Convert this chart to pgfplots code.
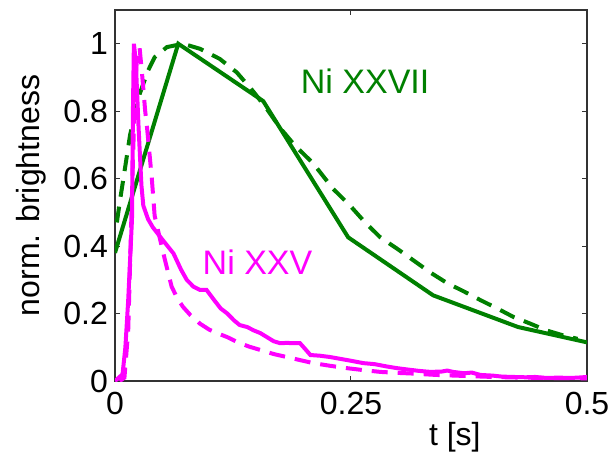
\documentclass[border=0pt]{standalone}
\usepackage{fontspec}
\setmainfont{Liberation Sans}
\usepackage{pgfplots}
\pgfplotsset{compat=1.18}
\definecolor{mgreen}{RGB}{0,128,0}
\definecolor{mmag}{RGB}{255,0,255}
\begin{document}
\begin{tikzpicture}
\path[use as bounding box] (-57.5pt,-37.5pt) rectangle (248.5pt,190.5pt);
\begin{axis}[
  scale only axis, width=236pt, height=185.5pt,
  xmin=0, xmax=0.5, ymin=0, ymax=1.1,
  xtick={0,0.25,0.5}, xticklabels={0,0.25,0.5},
  ytick={0,0.2,0.4,0.6,0.8,1}, yticklabels={0,0.2,0.4,0.6,0.8,1},
  tick align=inside, major tick length=2.5pt,
  tick style={black!80, line width=0.5pt},
  axis line style={black!80, line width=0.7pt},
  tick label style={font=\fontsize{16}{18}\selectfont},
  /pgf/number format/assume math mode=true,
  xticklabel style={yshift=-2pt},
  yticklabel style={xshift=0pt},
  label style={font=\fontsize{16}{18}\selectfont},
  xlabel={t [s]}, ylabel={norm. brightness},
  xlabel style={at={(axis description cs:0.72,-0.151)}, anchor=center},
  ylabel style={at={(axis description cs:-0.178,0.5)}, anchor=center},
  clip=true,
]
\addplot[mgreen, line width=2pt] coordinates {(0,0.38)(0.067,1)(0.157,0.83)(0.247,0.426)(0.337,0.254)(0.427,0.16)(0.517,0.104)};
\addplot[mgreen, line width=2pt, dash pattern=on 8pt off 5pt] coordinates {(0.002,0.47)(0.005,0.53)(0.01,0.62)(0.016,0.73)(0.026,0.85)(0.035,0.92)(0.042,0.96)(0.055,0.99)(0.072,1.0)(0.09,0.985)(0.111,0.955)(0.129,0.915)(0.146,0.86)(0.16,0.81)(0.175,0.75)(0.19,0.70)(0.21,0.645)(0.231,0.57)(0.249,0.52)(0.265,0.47)(0.281,0.426)(0.3,0.39)(0.316,0.358)(0.335,0.32)(0.352,0.29)(0.37,0.265)(0.387,0.24)(0.405,0.215)(0.422,0.19)(0.44,0.17)(0.457,0.15)(0.475,0.135)(0.49,0.125)};
\addplot[mmag, line width=2pt] coordinates {(0,0)(0.008,0.02)(0.011,0.1)(0.014,0.24)(0.018,0.48)(0.019,0.8)(0.02,1.0)(0.022,0.95)(0.025,0.75)(0.028,0.58)(0.03,0.52)(0.035,0.48)(0.04,0.456)(0.05,0.42)(0.062,0.378)(0.07,0.33)(0.076,0.3)(0.083,0.28)(0.09,0.27)(0.097,0.27)(0.105,0.24)(0.112,0.215)(0.119,0.2)(0.126,0.18)(0.132,0.166)(0.14,0.16)(0.147,0.15)(0.154,0.142)(0.161,0.13)(0.168,0.118)(0.175,0.112)(0.182,0.113)(0.19,0.112)(0.196,0.112)(0.203,0.09)(0.207,0.077)(0.217,0.075)(0.228,0.071)(0.238,0.066)(0.25,0.06)(0.263,0.053)(0.275,0.05)(0.288,0.043)(0.299,0.038)(0.31,0.034)(0.322,0.03)(0.334,0.027)(0.346,0.028)(0.352,0.031)(0.358,0.027)(0.37,0.023)(0.378,0.025)(0.387,0.018)(0.4,0.016)(0.41,0.013)(0.422,0.012)(0.435,0.011)(0.445,0.012)(0.457,0.009)(0.47,0.01)(0.482,0.009)(0.49,0.01)(0.5,0.012)};
\addplot[mmag, line width=2pt, dash pattern=on 8pt off 5pt] coordinates {(0.005,0)(0.01,0.01)(0.014,0.15)(0.017,0.45)(0.02,0.75)(0.023,0.95)(0.026,0.99)(0.029,0.9)(0.032,0.8)(0.034,0.75)(0.039,0.6)(0.042,0.49)(0.048,0.417)(0.053,0.358)(0.06,0.28)(0.066,0.245)(0.072,0.22)(0.08,0.195)(0.09,0.17)(0.1,0.152)(0.11,0.14)(0.119,0.13)(0.13,0.115)(0.142,0.102)(0.154,0.092)(0.168,0.08)(0.182,0.071)(0.196,0.062)(0.21,0.053)(0.228,0.045)(0.246,0.038)(0.264,0.032)(0.281,0.027)(0.3,0.024)(0.316,0.022)(0.34,0.018)(0.37,0.015)(0.4,0.012)(0.43,0.01)(0.46,0.009)(0.5,0.008)};
\node[mgreen, font=\fontsize{17}{20}\selectfont] at (axis cs:0.265,0.89) {Ni XXVII};
\node[mmag, font=\fontsize{17}{20}\selectfont] at (axis cs:0.151,0.352) {Ni XXV};
\end{axis}
\end{tikzpicture}
\end{document}
